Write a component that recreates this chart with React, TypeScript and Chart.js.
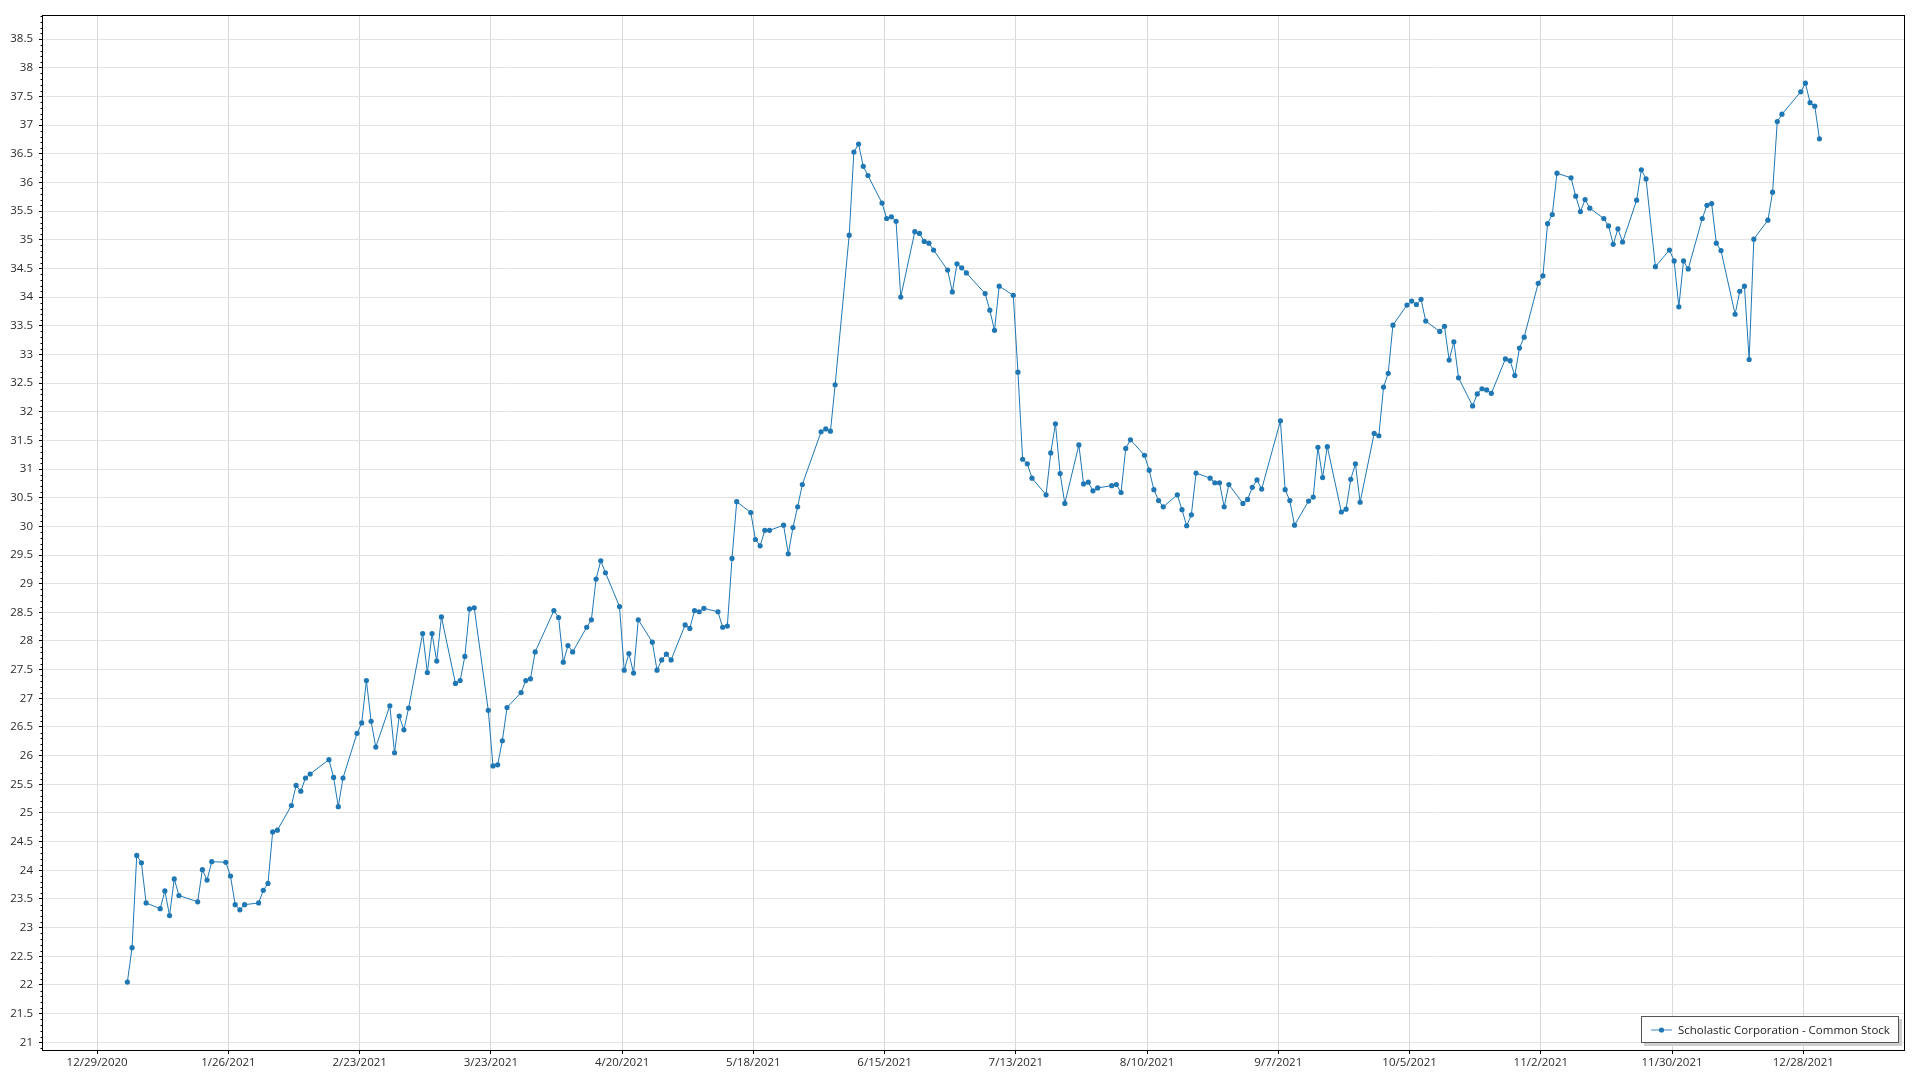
import React, { useEffect, useRef } from "react";
import { Chart, registerables } from "chart.js";

Chart.register(...registerables);

const SERIES_NAME = "Scholastic Corporation - Common Stock";
const YEAR = 2021;

// Trading dates (M/D, 2021)
const TRADE_DATES: string[] = [
  "1/4", "1/5", "1/6", "1/7", "1/8", "1/11", "1/12", "1/13", "1/14", "1/15", "1/19", "1/20", "1/21", "1/22", "1/25", "1/26", "1/27", "1/28", "1/29",
  "2/1", "2/2", "2/3", "2/4", "2/5", "2/8", "2/9", "2/10", "2/11", "2/12", "2/16", "2/17", "2/18", "2/19", "2/22", "2/23", "2/24", "2/25", "2/26",
  "3/1", "3/2", "3/3", "3/4", "3/5", "3/8", "3/9", "3/10", "3/11", "3/12", "3/15", "3/16", "3/17", "3/18", "3/19", "3/22", "3/23", "3/24", "3/25", "3/26", "3/29", "3/30", "3/31",
  "4/1", "4/5", "4/6", "4/7", "4/8", "4/9", "4/12", "4/13", "4/14", "4/15", "4/16", "4/19", "4/20", "4/21", "4/22", "4/23", "4/26", "4/27", "4/28", "4/29", "4/30",
  "5/3", "5/4", "5/5", "5/6", "5/7", "5/10", "5/11", "5/12", "5/13", "5/14", "5/17", "5/18", "5/19", "5/20", "5/21", "5/24", "5/25", "5/26", "5/27", "5/28",
  "6/1", "6/2", "6/3", "6/4", "6/7", "6/8", "6/9", "6/10", "6/11", "6/14", "6/15", "6/16", "6/17", "6/18", "6/21", "6/22", "6/23", "6/24", "6/25", "6/28", "6/29", "6/30",
  "7/1", "7/2", "7/6", "7/7", "7/8", "7/9", "7/12", "7/13", "7/14", "7/15", "7/16", "7/19", "7/20", "7/21", "7/22", "7/23", "7/26", "7/27", "7/28", "7/29", "7/30",
  "8/2", "8/3", "8/4", "8/5", "8/6", "8/9", "8/10", "8/11", "8/12", "8/13", "8/16", "8/17", "8/18", "8/19", "8/20", "8/23", "8/24", "8/25", "8/26", "8/27", "8/30", "8/31",
  "9/1", "9/2", "9/3", "9/7", "9/8", "9/9", "9/10", "9/13", "9/14", "9/15", "9/16", "9/17", "9/20", "9/21", "9/22", "9/23", "9/24", "9/27", "9/28", "9/29", "9/30",
  "10/1", "10/4", "10/5", "10/6", "10/7", "10/8", "10/11", "10/12", "10/13", "10/14", "10/15", "10/18", "10/19", "10/20", "10/21", "10/22", "10/25", "10/26", "10/27", "10/28", "10/29",
  "11/1", "11/2", "11/3", "11/4", "11/5", "11/8", "11/9", "11/10", "11/11", "11/12", "11/15", "11/16", "11/17", "11/18", "11/19", "11/22", "11/23", "11/24", "11/26", "11/29", "11/30",
  "12/1", "12/2", "12/3", "12/6", "12/7", "12/8", "12/9", "12/10", "12/13", "12/14", "12/15", "12/16", "12/17", "12/20", "12/21", "12/22", "12/23", "12/27", "12/28", "12/29", "12/30", "12/31",
];

// Closing prices, same order as TRADE_DATES
const CLOSE_PRICES: number[] = [
  22.05, 22.65, 24.26, 24.13, 23.43, 23.33, 23.64, 23.21, 23.85, 23.56, 23.45, 24.01, 23.83, 24.15, 24.14, 23.9, 23.4, 23.31, 23.4,
  23.43, 23.65, 23.77, 24.67, 24.7, 25.13, 25.48, 25.38, 25.61, 25.68, 25.93, 25.62, 25.11, 25.61, 26.39, 26.57, 27.31, 26.6, 26.15,
  26.87, 26.05, 26.69, 26.45, 26.83, 28.13, 27.45, 28.13, 27.65, 28.42, 27.26, 27.31, 27.73, 28.56, 28.58, 26.79, 25.82, 25.84, 26.26, 26.84, 27.1, 27.31, 27.34,
  27.81, 28.53, 28.41, 27.63, 27.92, 27.81, 28.24, 28.37, 29.08, 29.4, 29.19, 28.6, 27.49, 27.78, 27.44, 28.37, 27.98, 27.49, 27.67, 27.77, 27.67,
  28.28, 28.22, 28.53, 28.51, 28.57, 28.51, 28.24, 28.26, 29.44, 30.43, 30.24, 29.77, 29.66, 29.93, 29.93, 30.02, 29.52, 29.98, 30.34, 30.73,
  31.65, 31.7, 31.66, 32.47, 35.08, 36.53, 36.67, 36.28, 36.12, 35.64, 35.37, 35.4, 35.32, 34.0, 35.14, 35.11, 34.97, 34.94, 34.82, 34.47, 34.09, 34.58,
  34.51, 34.42, 34.06, 33.77, 33.42, 34.19, 34.03, 32.69, 31.17, 31.09, 30.84, 30.55, 31.28, 31.79, 30.92, 30.4, 31.42, 30.74, 30.77, 30.62, 30.67,
  30.71, 30.73, 30.59, 31.36, 31.51, 31.24, 30.98, 30.64, 30.45, 30.34, 30.55, 30.29, 30.01, 30.2, 30.93, 30.84, 30.76, 30.76, 30.34, 30.73, 30.4, 30.47,
  30.68, 30.81, 30.65, 31.84, 30.64, 30.45, 30.02, 30.44, 30.51, 31.38, 30.85, 31.39, 30.25, 30.3, 30.82, 31.09, 30.42, 31.62, 31.58, 32.43, 32.67,
  33.51, 33.86, 33.93, 33.87, 33.96, 33.58, 33.4, 33.49, 32.9, 33.22, 32.59, 32.1, 32.31, 32.4, 32.38, 32.32, 32.92, 32.89, 32.63, 33.11, 33.3,
  34.24, 34.37, 35.28, 35.44, 36.16, 36.08, 35.76, 35.49, 35.7, 35.55, 35.37, 35.24, 34.92, 35.19, 34.96, 35.69, 36.22, 36.06, 34.53, 34.82, 34.63,
  33.83, 34.63, 34.49, 35.37, 35.6, 35.63, 34.94, 34.81, 33.7, 34.1, 34.19, 32.91, 35.01, 35.34, 35.83, 37.06, 37.19, 37.58, 37.73, 37.39, 37.33, 36.76,
];

const X_TICK_LABELS: string[] = [
  "12/29/2020", "1/26/2021", "2/23/2021", "3/23/2021", "4/20/2021", "5/18/2021", "6/15/2021",
  "7/13/2021", "8/10/2021", "9/7/2021", "10/5/2021", "11/2/2021", "11/30/2021", "12/28/2021",
];

const Y_TICK_LABELS: string[] = [
  "21", "21.5", "22", "22.5", "23", "23.5", "24", "24.5", "25", "25.5", "26", "26.5", "27", "27.5",
  "28", "28.5", "29", "29.5", "30", "30.5", "31", "31.5", "32", "32.5", "33", "33.5", "34", "34.5",
  "35", "35.5", "36", "36.5", "37", "37.5", "38", "38.5",
];

// Axis ranges (days since 12/29/2020 on x)
const X_MIN = -11.55;
const X_MAX = 385.7;
const Y_MIN = 20.865;
const Y_MAX = 38.92;
const SESSION_TIME = 0.45; // fraction of a day at which each quote is stamped

const DAY_MS = 86400000;
const ORIGIN = Date.UTC(2020, 11, 29);
const dayOf = (y: number, m: number, d: number) => (Date.UTC(y, m - 1, d) - ORIGIN) / DAY_MS;
const parseMDY = (s: string) => {
  const [m, d, y] = s.split("/").map(Number);
  return dayOf(y, m, d);
};

const FONT = "'Open Sans', 'Noto Sans', sans-serif";

const framePlugin = {
  id: "frameAndMinor",
  afterDraw(chart: any) {
    const { ctx, chartArea: a, scales } = chart;
    ctx.save();
    ctx.strokeStyle = "#000";
    ctx.lineWidth = 1;
    ctx.strokeRect(Math.round(a.left) - 0.5, Math.round(a.top) + 0.5, Math.round(a.right - a.left), Math.round(a.bottom - a.top));
    const ys = scales.y;
    for (let k = Math.ceil(Y_MIN * 10); k <= Math.floor(Y_MAX * 10); k++) {
      if (k % 5 === 0) continue;
      const py = Math.round(ys.getPixelForValue(k / 10)) + 0.5;
      ctx.beginPath();
      ctx.moveTo(a.left - 2.5, py);
      ctx.lineTo(a.left, py);
      ctx.stroke();
    }
    ctx.restore();
  },
};

export default function App() {
  const canvasRef = useRef<HTMLCanvasElement | null>(null);

  useEffect(() => {
    if (!canvasRef.current) return;
    const points = TRADE_DATES.map((md, i) => {
      const [m, d] = md.split("/").map(Number);
      return { x: dayOf(YEAR, m, d) + SESSION_TIME, y: CLOSE_PRICES[i] };
    });
    const xTicks = X_TICK_LABELS.map(parseMDY);
    const yTicks = Y_TICK_LABELS.map(Number);

    const chart = new Chart(canvasRef.current, {
      type: "line",
      data: {
        datasets: [
          {
            label: SERIES_NAME,
            data: points,
            borderColor: "#1f77b4",
            backgroundColor: "#1f77b4",
            borderWidth: 1,
            pointRadius: 2.6,
            pointBorderWidth: 0,
            pointHoverRadius: 2.6,
            tension: 0,
          },
        ],
      },
      options: {
        animation: false,
        responsive: false,
        maintainAspectRatio: false,
        devicePixelRatio: 1,
        layout: { padding: { left: 0, top: 15, right: 15, bottom: 0 } },
        plugins: { legend: { display: false }, tooltip: { enabled: false } },
        scales: {
          x: {
            type: "linear",
            min: X_MIN,
            max: X_MAX,
            afterBuildTicks: (axis: any) => {
              axis.ticks = xTicks.map((v) => ({ value: v }));
            },
            afterFit: (s: any) => {
              s.height = 30;
            },
            ticks: {
              autoSkip: false,
              maxRotation: 0,
              padding: 2,
              color: "#2b2b2b",
              font: { family: FONT, size: 11.5 },
              callback: (_v: any, i: number) => X_TICK_LABELS[i],
            },
            grid: { color: "#d9d9d9", tickColor: "#000", tickLength: 4, lineWidth: 1 },
            border: { display: false },
          },
          y: {
            type: "linear",
            min: Y_MIN,
            max: Y_MAX,
            afterBuildTicks: (axis: any) => {
              axis.ticks = yTicks.map((v) => ({ value: v }));
            },
            afterFit: (s: any) => {
              s.width = 43;
            },
            ticks: {
              padding: 6,
              color: "#2b2b2b",
              font: { family: FONT, size: 11.5 },
              callback: (_v: any, i: number) => Y_TICK_LABELS[i],
            },
            grid: { color: "#e3e3e3", tickColor: "#000", tickLength: 4, lineWidth: 1 },
            border: { display: false },
          },
        },
      },
      plugins: [framePlugin],
    });
    return () => chart.destroy();
  }, []);

  return (
    <div style={{ position: "fixed", left: 0, top: 0, width: 1920, height: 1080, background: "#fff" }}>
      <canvas ref={canvasRef} width={1920} height={1080} style={{ width: 1920, height: 1080, display: "block" }} />
      <div
        style={{
          position: "absolute",
          left: 1641,
          top: 1016,
          width: 256,
          height: 25,
          border: "1px solid #555",
          background: "#fff",
          boxShadow: "3px 3px 0 #cfcfcf",
          display: "flex",
          alignItems: "center",
          fontFamily: FONT,
          fontSize: 11.5,
          color: "#222",
          whiteSpace: "nowrap",
        }}
      >
        <svg width={22} height={10} style={{ marginLeft: 9, marginRight: 5 }}>
          <line x1={0} y1={5} x2={21} y2={5} stroke="#7fb2da" strokeWidth={1.5} />
          <circle cx={10.5} cy={5} r={2.6} fill="#1f77b4" />
        </svg>
        <span>{SERIES_NAME}</span>
      </div>
    </div>
  );
}
